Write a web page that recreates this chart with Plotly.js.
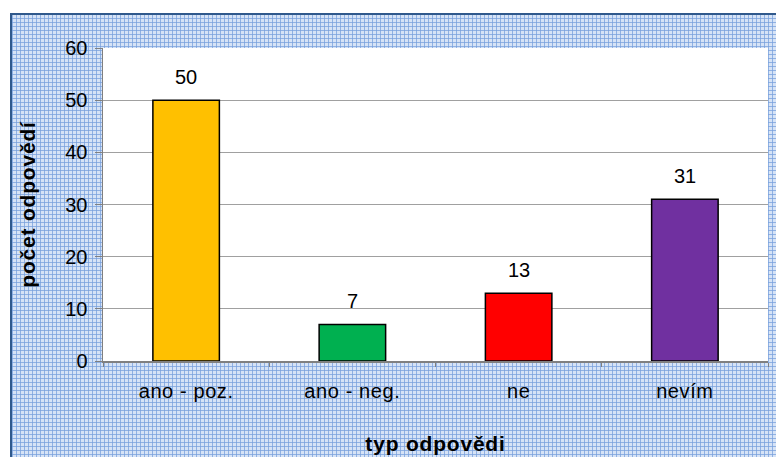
<!DOCTYPE html>
<html>
<head>
<meta charset="utf-8">
<script src="https://cdn.plot.ly/plotly-3.0.1.min.js"></script>
<style>
  html, body { margin: 0; padding: 0; background: #ffffff; }
  #wrap { position: relative; width: 776px; height: 457px; overflow: hidden; }
  #bg {
    position: absolute; left: 10px; top: 13px; width: 780px; height: 460px;
    border-left: 2px solid #30598c; border-top: 2px solid #30598c;
    background-color: #d6e3f6;
    background-image:
      repeating-linear-gradient(0deg, rgba(120,160,220,0.75) 0px, rgba(120,160,220,0.75) 1px, transparent 1px, transparent 4px),
      repeating-linear-gradient(90deg, rgba(120,160,220,0.75) 0px, rgba(120,160,220,0.75) 1px, transparent 1px, transparent 4px);
  }
  #chart { position: absolute; left: 0; top: 0; width: 776px; height: 457px; }
  .xtitle, .ytitle { letter-spacing: 0.8px; }
  .xtick text { letter-spacing: 0.6px; }
</style>
</head>
<body>
<div id="wrap">
  <div id="bg"></div>
  <div id="chart"></div>
</div>
<script>
const categories = ["ano - poz.", "ano - neg.", "ne", "nevím"];
const values = [50, 7, 13, 31];
const barColors = ["#ffc000", "#00b050", "#ff0000", "#7030a0"];
const yTickValues = [0, 10, 20, 30, 40, 50, 60];

const font = { family: "Liberation Sans, Arial, sans-serif", color: "#000000" };

const trace = {
  type: "bar",
  x: categories,
  y: values,
  marker: { color: barColors, line: { color: "#000000", width: 1.5 } },
  hoverinfo: "skip"
};

const annotations = categories.map((c, i) => ({
  x: c, y: values[i], text: String(values[i]),
  showarrow: false, yshift: 23,
  font: Object.assign({}, font, { size: 20 })
}));

const layout = {
  width: 776, height: 457,
  margin: { l: 103, r: 8, t: 48, b: 96 },
  paper_bgcolor: "rgba(0,0,0,0)",
  plot_bgcolor: "#ffffff",
  bargap: 0.6,
  showlegend: false,
  font: font,
  xaxis: {
    type: "category",
    tickson: "boundaries",
    ticks: "outside", ticklen: 4, tickcolor: "#808080",
    ticklabelstandoff: 11,
    showline: true, linecolor: "#808080", linewidth: 1.5,
    showgrid: false,
    tickfont: Object.assign({}, font, { size: 20 }),
    title: { text: "<b>typ odpovědi</b>", font: Object.assign({}, font, { size: 21 }), standoff: 36 }
  },
  yaxis: {
    range: [0, 60],
    tickvals: yTickValues,
    ticks: "outside", ticklen: 7, tickcolor: "#808080",
    ticklabelstandoff: 3,
    showline: true, linecolor: "#808080", linewidth: 1.5,
    showgrid: true, gridcolor: "#a0a0a0", gridwidth: 1,
    zeroline: false,
    tickfont: Object.assign({}, font, { size: 20 }),
    title: { text: "<b>počet odpovědí</b>", font: Object.assign({}, font, { size: 21 }), standoff: 24 }
  },
  annotations: annotations
};

Plotly.newPlot("chart", [trace], layout, { displayModeBar: false, staticPlot: true });
</script>
</body>
</html>
